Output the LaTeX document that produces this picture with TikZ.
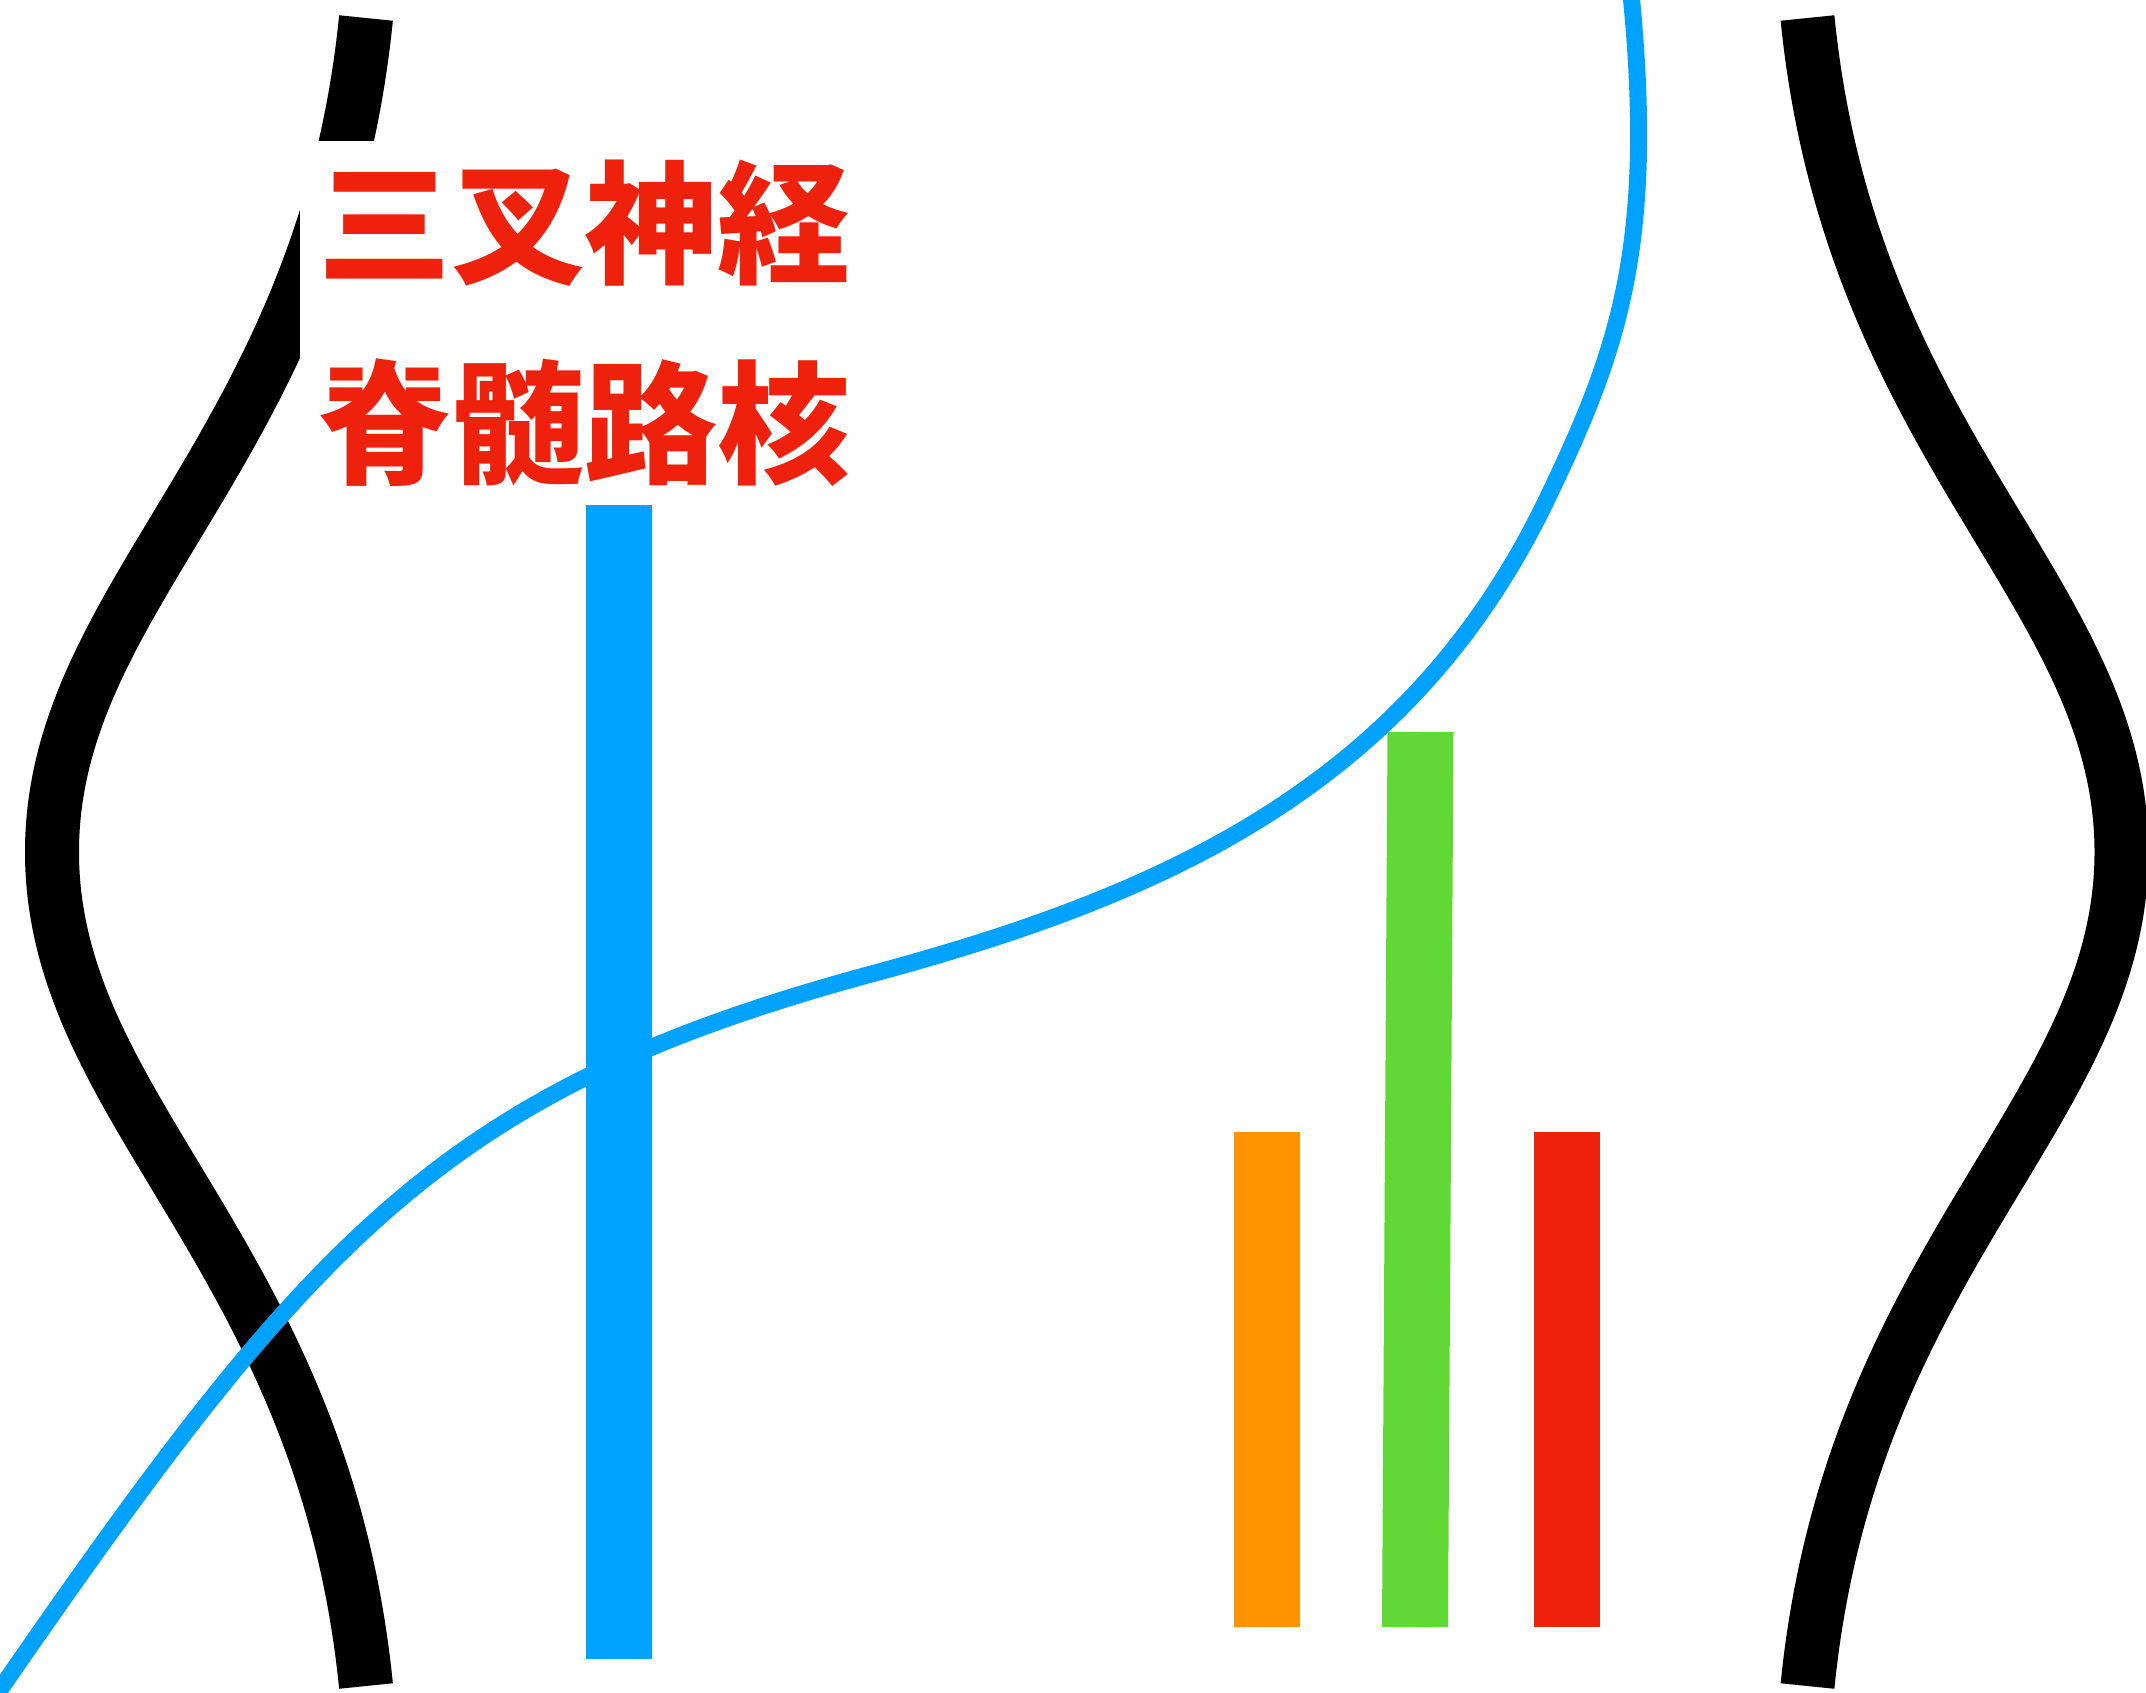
\documentclass[tikz,border=0pt]{standalone}
\usepackage{fontspec}
\newfontfamily\jpfont{Noto Sans CJK JP}
\definecolor{kblue}{RGB}{0,162,255}
\definecolor{korange}{RGB}{255,147,0}
\definecolor{kgreen}{RGB}{97,216,54}
\definecolor{kred}{RGB}{238,34,12}
\begin{document}
\begin{tikzpicture}[x=1pt,y=-1pt,
  nerve/.style={line width=54pt, draw=black},
  bluepath/.style={line width=17pt, draw=kblue},
  colbar/.style={line width=66pt},
  jptext/.style={font=\jpfont\bfseries\fontsize{133pt}{133pt}\selectfont, text=kred, inner sep=0pt}]
\useasboundingbox (0,0) rectangle (2146,1692);
\clip (0,0) rectangle (2146,1692);
% left nerve
\coordinate (lt) at (366,18);
\coordinate (lv) at (52,852);
\coordinate (lb) at (366,1686);
\draw[nerve] (lt) .. controls (323,448) and (52,592) .. (lv) .. controls (52,1112) and (323,1256) .. (lb);
% right nerve
\coordinate (rt) at (1807.5,18);
\coordinate (rv) at (2121.5,852);
\coordinate (rb) at (1807.5,1686);
\draw[nerve] (rt) .. controls (1850.5,448) and (2121.5,592) .. (rv) .. controls (2121.5,1112) and (1850.5,1256) .. (rb);
% label box
\fill[white] (300,141) rectangle (870,500);
\node[jptext] (t1) at (584.3,222.8) {三叉神経};
\node[jptext] (t2) at (584.3,422.5) {脊髄路核};
% blue curve
\coordinate (bs) at (-10,1704);
\coordinate (bm) at (875,973);
\coordinate (bq) at (1548,497);
\coordinate (be) at (1631,-6);
\draw[bluepath] (bs) .. controls (312,1237) and (441,1090) .. (bm)
  .. controls (1164.5,894.7) and (1410,786) .. (bq)
  .. controls (1617,352.7) and (1656,248) .. (be);
% bars
\coordinate (blt) at (619,505);
\coordinate (blb) at (619,1659);
\coordinate (ort) at (1267,1132);
\coordinate (orb) at (1267,1627);
\coordinate (grt) at (1420.5,732);
\coordinate (grb) at (1415,1627);
\coordinate (rdt) at (1567,1132);
\coordinate (rdb) at (1567,1627);
\draw[colbar,kblue] (blt) -- (blb);
\draw[colbar,korange] (ort) -- (orb);
\draw[colbar,kgreen] (grt) -- (grb);
\draw[colbar,kred] (rdt) -- (rdb);
\end{tikzpicture}
\end{document}
